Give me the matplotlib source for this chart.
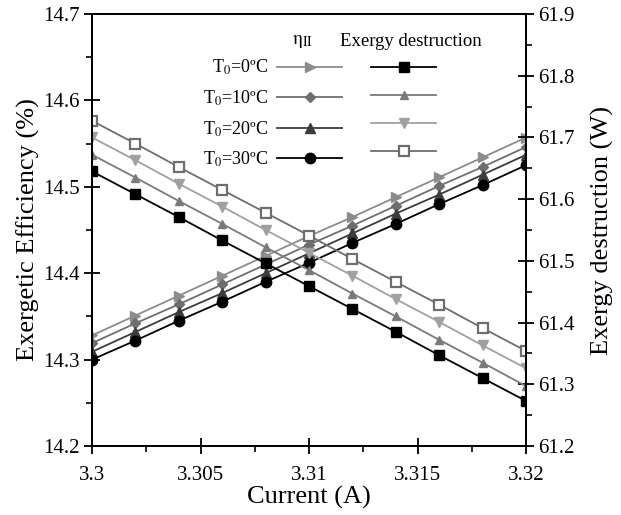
import matplotlib
matplotlib.use("Agg")
import matplotlib.pyplot as plt
from matplotlib.ticker import MultipleLocator, FuncFormatter

plt.rcParams['font.family'] = ['Liberation Serif', 'DejaVu Serif']
plt.rcParams['mathtext.fontset'] = 'stix'

current = [3.300, 3.302, 3.304, 3.306, 3.308, 3.310, 3.312, 3.314, 3.316, 3.318, 3.320]

eff_0 = [14.328, 14.351, 14.374, 14.397, 14.420, 14.443, 14.465, 14.488, 14.511, 14.534, 14.557]
eff_10 = [14.319, 14.342, 14.364, 14.387, 14.410, 14.433, 14.455, 14.478, 14.501, 14.523, 14.546]
eff_20 = [14.309, 14.332, 14.355, 14.377, 14.400, 14.423, 14.446, 14.469, 14.491, 14.514, 14.537]
eff_30 = [14.300, 14.322, 14.345, 14.367, 14.390, 14.412, 14.435, 14.457, 14.480, 14.502, 14.525]

ed_0 = [61.645, 61.608, 61.571, 61.533, 61.496, 61.459, 61.422, 61.385, 61.347, 61.310, 61.273]
ed_10 = [61.672, 61.635, 61.597, 61.560, 61.522, 61.485, 61.447, 61.410, 61.372, 61.335, 61.297]
ed_20 = [61.700, 61.663, 61.625, 61.588, 61.550, 61.513, 61.476, 61.438, 61.401, 61.363, 61.326]
ed_30 = [61.727, 61.690, 61.652, 61.615, 61.578, 61.541, 61.503, 61.466, 61.429, 61.391, 61.354]

labels = ['T$_0$=0ºC', 'T$_0$=10ºC', 'T$_0$=20ºC', 'T$_0$=30ºC']

fig = plt.figure(figsize=(6.21, 5.15), dpi=100)
ax = fig.add_axes([92/621, 1-446/515, (526-92)/621, (446-14)/515])
ax2 = ax.twinx()

lw = 1.3
e0, = ax.plot(current, eff_0, color='#8c8c8c', marker='>', ms=7, lw=lw)
e10, = ax.plot(current, eff_10, color='#6e6e6e', marker='D', ms=5.5, lw=lw)
e20, = ax.plot(current, eff_20, color='#3c3c3c', marker='^', ms=6.5, lw=lw)
e30, = ax.plot(current, eff_30, color='#000000', marker='o', ms=7.5, lw=lw)

d0, = ax2.plot(current, ed_0, color='#000000', marker='s', ms=7.5, lw=lw)
d10, = ax2.plot(current, ed_10, color='#7a7a7a', marker='^', ms=6, lw=lw)
d20, = ax2.plot(current, ed_20, color='#a0a0a0', marker='v', ms=7, lw=lw)
d30, = ax2.plot(current, ed_30, color='#6e6e6e', marker='s', ms=7, lw=lw,
                markerfacecolor='white', markeredgewidth=1.6)

ax.set_xlim(3.3, 3.32)
ax.set_ylim(14.2, 14.7)
ax2.set_ylim(61.2, 61.9)

ax.xaxis.set_major_locator(MultipleLocator(0.005))
ax.xaxis.set_minor_locator(MultipleLocator(0.0025))
ax.yaxis.set_major_locator(MultipleLocator(0.1))
ax.yaxis.set_minor_locator(MultipleLocator(0.05))
ax2.yaxis.set_major_locator(MultipleLocator(0.1))
ax2.yaxis.set_minor_locator(MultipleLocator(0.05))

ax.xaxis.set_major_formatter(FuncFormatter(lambda v, p: f"{v:.4g}"))
ax.yaxis.set_major_formatter(FuncFormatter(lambda v, p: f"{v:.1f}"))
ax2.yaxis.set_major_formatter(FuncFormatter(lambda v, p: f"{v:.1f}"))

for a in (ax, ax2):
    a.tick_params(which='major', direction='inout', length=11.5, width=1.3, labelsize=15)
    a.tick_params(which='minor', direction='out', length=4, width=1.2)
    for s in a.spines.values():
        s.set_linewidth(1.4)
ax.tick_params(axis='x', pad=9)
ax.tick_params(axis='y', pad=3)
ax2.tick_params(axis='y', pad=3)

ax.set_xlabel('Current (A)', fontsize=19, labelpad=0)
ax.set_ylabel('Exergetic Efficiency (%)', fontsize=19, labelpad=2)
ax2.set_ylabel('Exergy destruction (W)', fontsize=19, labelpad=12)

leg = ax2.legend([e0, e10, e20, e30, d0, d10, d20, d30],
                 labels + ['', '', '', ''],
                 ncol=2, markerfirst=False, frameon=False,
                 loc='upper left', bbox_to_anchor=(203/621, 1-58/515),
                 bbox_transform=fig.transFigure,
                 fontsize=13, handlelength=3.6, handletextpad=0.5,
                 columnspacing=1.1, labelspacing=0.62,
                 borderpad=0, borderaxespad=0)

fig.text(303/621, 1-42/515, r'$\mathrm{\eta_{II}}$', ha='center', va='center', fontsize=14)
fig.text(411/621, 1-42/515, 'Exergy destruction', ha='center', va='center', fontsize=13.5)

fig.savefig('out.png', dpi=100)
